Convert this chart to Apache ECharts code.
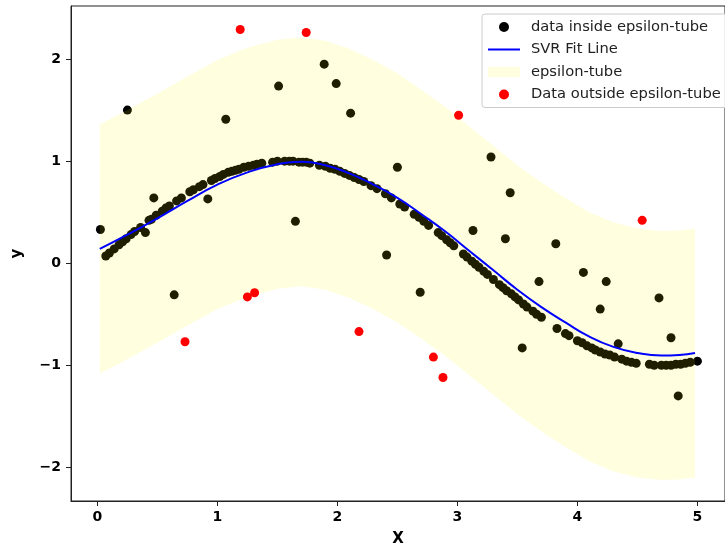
<!DOCTYPE html>
<html>
<head>
<meta charset="utf-8">
<script src="https://cdn.jsdelivr.net/npm/echarts@6/dist/echarts.min.js"></script>
<style>
  html, body { margin: 0; padding: 0; background: #fff; }
  #chart { width: 725px; height: 552px; }
</style>
</head>
<body>
<div id="chart"></div>
<script>
// axis ticks
const xTicks = [0, 1, 2, 3, 4, 5];
const yTicks = [-2, -1, 0, 1, 2];

// points inside the epsilon-tube
const insideX = [0.025, 0.07, 0.10, 0.14, 0.18, 0.21, 0.24, 0.25, 0.28, 0.31, 0.36, 0.40, 0.43, 0.45, 0.47, 0.49,
  0.54, 0.57, 0.60, 0.64, 0.66, 0.70, 0.77, 0.80, 0.85, 0.88, 0.92, 0.95, 0.98, 1.02, 1.05, 1.07, 1.09, 1.12,
  1.15, 1.18, 1.22, 1.26, 1.30, 1.33, 1.37, 1.46, 1.50, 1.51, 1.56, 1.60, 1.63, 1.65, 1.68, 1.71, 1.74, 1.77,
  1.85, 1.89, 1.90, 1.94, 1.98, 1.99, 2.02, 2.06, 2.10, 2.11, 2.14, 2.18, 2.22, 2.28, 2.33, 2.40, 2.41, 2.45,
  2.50, 2.52, 2.56, 2.64, 2.68, 2.69, 2.72, 2.76, 2.84, 2.87, 2.91, 2.94, 2.97, 3.05, 3.08, 3.12, 3.13, 3.15,
  3.18, 3.22, 3.25, 3.28, 3.30, 3.35, 3.38, 3.40, 3.41, 3.44, 3.45, 3.48, 3.51, 3.54, 3.55, 3.58, 3.63, 3.66,
  3.68, 3.70, 3.82, 3.83, 3.90, 3.93, 4.00, 4.04, 4.05, 4.08, 4.12, 4.15, 4.19, 4.19, 4.23, 4.24, 4.27, 4.31,
  4.34, 4.37, 4.41, 4.45, 4.49, 4.60, 4.64, 4.68, 4.70, 4.74, 4.78, 4.78, 4.82, 4.84, 4.86, 4.90, 4.94, 5.00];
const insideY = [0.33, 0.07, 0.10, 0.14, 0.18, 0.21, 0.24, 1.50, 0.28, 0.31, 0.35, 0.30, 0.42, 0.43, 0.64, 0.47,
  0.51, 0.54, 0.56, -0.31, 0.61, 0.64, 0.70, 0.72, 0.75, 0.77, 0.63, 0.81, 0.83, 0.85, 0.87, 1.41, 0.89, 0.90,
  0.91, 0.92, 0.94, 0.95, 0.96, 0.97, 0.98, 0.99, 1.00, 1.735, 1.00, 1.00, 1.00, 0.41, 0.99, 0.99, 0.99, 0.98,
  0.96, 1.95, 0.95, 0.93, 0.92, 1.76, 0.90, 0.88, 0.86, 1.47, 0.84, 0.82, 0.80, 0.76, 0.73, 0.68, 0.08, 0.64,
  0.94, 0.58, 0.55, 0.48, 0.45, -0.285, 0.41, 0.37, 0.30, 0.27, 0.23, 0.20, 0.17, 0.09, 0.06, 0.02, 0.32, -0.01,
  -0.04, -0.08, -0.11, 1.04, -0.16, -0.21, -0.24, 0.24, -0.27, 0.69, -0.30, -0.33, -0.36, -0.83, -0.40, -0.43, -0.47, -0.50,
  -0.18, -0.53, 0.19, -0.64, -0.69, -0.71, -0.76, -0.78, -0.09, -0.81, -0.83, -0.85, -0.45, -0.87, -0.89, -0.18, -0.90, -0.92,
  -0.79, -0.94, -0.96, -0.97, -0.98, -0.99, -1.00, -0.34, -1.00, -1.00, -0.73, -1.00, -0.99, -1.30, -0.99, -0.98, -0.97, -0.96];

// points outside the epsilon-tube
const outsideX = [0.73, 1.19, 1.25, 1.31, 1.74, 2.18, 2.80, 2.88, 3.01, 4.54];
const outsideY = [-0.77, 2.29, -0.33, -0.29, 2.26, -0.67, -0.92, -1.12, 1.45, 0.42];

// SVR fit line and tube edges
const fitX = [0.02, 0.25, 0.5, 0.75, 1.0, 1.25, 1.5, 1.7, 1.9, 2.1, 2.3, 2.5, 2.7, 2.9, 3.1, 3.3, 3.5,
  3.7, 3.9, 4.1, 4.3, 4.5, 4.7, 4.85, 4.98];
const fitY = [0.14, 0.28, 0.44, 0.61, 0.77, 0.89, 0.97, 0.995, 0.96, 0.88, 0.77, 0.64, 0.48, 0.31, 0.12, -0.07, -0.26,
  -0.43, -0.58, -0.72, -0.82, -0.88, -0.905, -0.90, -0.88];
const tubeUpper = [1.36, 1.50, 1.66, 1.83, 1.99, 2.11, 2.19, 2.215, 2.18, 2.10, 1.99, 1.86, 1.70, 1.53, 1.34, 1.15, 0.96,
  0.79, 0.64, 0.50, 0.40, 0.34, 0.315, 0.32, 0.34];
const tubeLower = [-1.08, -0.94, -0.78, -0.61, -0.45, -0.33, -0.25, -0.225, -0.26, -0.34, -0.45, -0.58, -0.74, -0.91, -1.10, -1.29, -1.48,
  -1.65, -1.80, -1.94, -2.04, -2.10, -2.125, -2.12, -2.10];

const pairs = (xs, ys) => xs.map((x, i) => [x, ys[i]]);
const minus = v => String(v).replace('-', '\u2212');
const tubeColor = 'rgba(255,255,0,0.12)';

const chart = echarts.init(document.getElementById('chart'));

chart.setOption({
  animation: false,
  textStyle: { fontFamily: 'DejaVu Sans' },
  grid: {
    left: 71, top: 6, width: 666, height: 496,
    show: true, borderColor: '#222', borderWidth: 1
  },
  legend: {
    left: 482, top: 14,
    orient: 'vertical',
    padding: [5, 8, 5, 6],
    itemWidth: 32, itemHeight: 10, itemGap: 6.5,
    borderColor: '#ccc', borderWidth: 1, borderRadius: 3,
    backgroundColor: 'rgba(255,255,255,0.85)',
    textStyle: { fontSize: 14.7, color: '#222', lineHeight: 16, padding: [0, 0, 0, 6] },
    data: [
      { name: 'data inside epsilon-tube', icon: 'circle' },
      { name: 'SVR Fit Line', icon: 'path://M0,0H32V2H0Z' },
      { name: 'epsilon-tube', icon: 'rect', itemStyle: { color: tubeColor } },
      { name: 'Data outside epsilon-tube', icon: 'circle' }
    ]
  },
  xAxis: {
    type: 'value', min: -0.22, max: 5.23,
    name: 'X', nameLocation: 'middle', nameGap: 31,
    nameTextStyle: { fontSize: 15, fontWeight: 'bold', color: '#000' },
    axisLine: { onZero: false, lineStyle: { color: '#222' } },
    axisTick: { show: true, length: 5, customValues: xTicks, lineStyle: { color: '#222' } },
    axisLabel: { customValues: xTicks, fontSize: 14, fontWeight: 'bold', color: '#000', margin: 9, formatter: minus },
    splitLine: { show: false }
  },
  yAxis: {
    type: 'value', min: -2.33, max: 2.52,
    name: 'y', nameLocation: 'middle', nameGap: 46,
    nameTextStyle: { fontSize: 15, fontWeight: 'bold', color: '#000' },
    axisLine: { show: true, onZero: false, lineStyle: { color: '#222' } },
    axisTick: { show: true, length: 5, customValues: yTicks, lineStyle: { color: '#222' } },
    axisLabel: { customValues: yTicks, fontSize: 14, fontWeight: 'bold', color: '#000', margin: 10, formatter: minus },
    splitLine: { show: false }
  },
  series: [
    {
      name: 'data inside epsilon-tube', type: 'scatter', z: 2,
      symbolSize: 9, itemStyle: { color: '#000', opacity: 1 },
      data: pairs(insideX, insideY)
    },
    {
      name: 'epsilon-tube', type: 'custom', z: 3, silent: true,
      itemStyle: { color: tubeColor },
      data: fitX.map((x, i) => [x, tubeUpper[i], tubeLower[i]]),
      encode: { x: 0, y: [1, 2] },
      renderItem: function (params, api) {
        if (params.dataIndex !== 0) return null;
        const top = fitX.map((x, i) => api.coord([x, tubeUpper[i]]));
        const bottom = fitX.map((x, i) => api.coord([x, tubeLower[i]])).reverse();
        return {
          type: 'polygon',
          shape: { points: top.concat(bottom) },
          style: { fill: tubeColor }
        };
      }
    },
    {
      name: 'Data outside epsilon-tube', type: 'scatter', z: 4,
      symbolSize: 9, itemStyle: { color: '#ff0000', opacity: 1 },
      data: pairs(outsideX, outsideY)
    },
    {
      name: 'SVR Fit Line', type: 'line', z: 5, smooth: true,
      symbol: 'none', lineStyle: { color: '#0000ff', width: 2 },
      itemStyle: { color: '#0000ff' },
      data: pairs(fitX, fitY)
    }
  ]
});
</script>
</body>
</html>
